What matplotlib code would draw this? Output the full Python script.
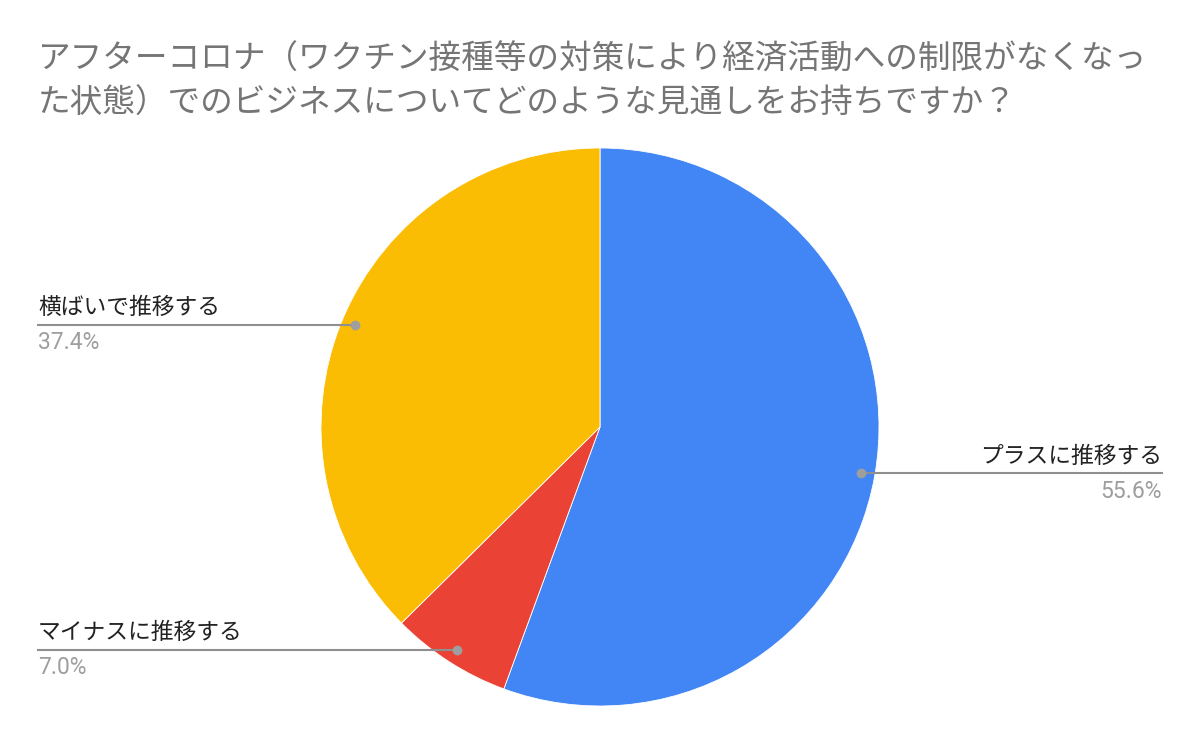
import numpy as np
import matplotlib
matplotlib.use("Agg")
import matplotlib.pyplot as plt

plt.rcParams['font.family'] = ['Noto Sans CJK JP', 'DejaVu Sans']

# data
title_lines = ["アフターコロナ（ワクチン接種等の対策により経済活動への制限がなくなっ",
               "た状態）でのビジネスについてどのような見通しをお持ちですか？"]
labels = ["プラスに推移する", "マイナスに推移する", "横ばいで推移する"]
values = [55.6, 7.0, 37.4]
colors = ["#4285F4", "#EA4335", "#FBBC04"]

W, H = 1200, 742
fig = plt.figure(figsize=(12, 7.42), dpi=100, facecolor="white")

# pie axes placed in pixels: centre (600,427), radius 279
cx, cy, R = 600, 427, 279
ax = fig.add_axes([(cx - R) / W, (H - cy - R) / H, 2 * R / W, 2 * R / H])
wedges, _ = ax.pie(values, colors=colors, startangle=90, counterclock=False,
                   radius=1.0, wedgeprops=dict(linewidth=0.6, edgecolor="white"))
ax.set_xlim(-1, 1)
ax.set_ylim(-1, 1)
ax.set_aspect("equal")
ax.axis("off")

for t, y in zip(title_lines, [60, 104]):
    fig.text(38 / W, 1 - y / H, t, fontsize=23.5, color="#757575",
             ha="left", va="center")

# label lines: left ones end at x=38, right ones at x=1162
for w, lab, v in zip(wedges, labels, values):
    mid = np.deg2rad((w.theta1 + w.theta2) / 2)
    dx, dy = 0.95 * np.cos(mid), 0.95 * np.sin(mid)
    px = cx + dx * R
    py = cy - dy * R
    if dx > 0:
        x_end, ha = 1162, "right"
    else:
        x_end, ha = 38, "left"
    fig.add_artist(plt.Line2D([px / W, x_end / W], [1 - py / H, 1 - py / H],
                              color="#8f8f8f", lw=1.5))
    fig.add_artist(plt.Line2D([px / W], [1 - py / H], marker="o", ms=6,
                              color="#9e9e9e", lw=0))
    fig.text(x_end / W, 1 - (py - 17) / H, lab, fontsize=16.4, color="#222222",
             ha=ha, va="center")
    fig.text(x_end / W, 1 - (py + 18) / H, f"{v:.1f}%", fontsize=16.5,
             color="#9e9e9e", ha=ha, va="center", family=["Roboto", "DejaVu Sans"])

fig.savefig("out.png", dpi=100, facecolor="white")
